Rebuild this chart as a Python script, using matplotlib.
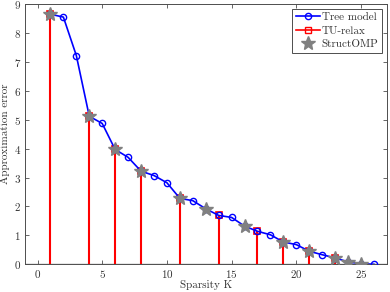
import matplotlib
matplotlib.use("Agg")
import matplotlib.pyplot as plt
from matplotlib.lines import Line2D

plt.rcParams.update({
    "font.family": "serif",
    "font.serif": ["cmr10"],
    "mathtext.fontset": "cm",
    "axes.formatter.use_mathtext": True,
    "font.size": 8,
})

# ── data ──────────────────────────────────────────────────────────────────────
k_tree = list(range(1, 27))
err_tree = [8.65, 8.55, 7.22, 5.12, 4.87, 3.97, 3.70, 3.22, 3.07, 2.82,
            2.28, 2.20, 1.92, 1.69, 1.62, 1.32, 1.14, 1.02, 0.77, 0.68,
            0.45, 0.33, 0.22, 0.08, 0.02, 0.0]

k_tu = [1, 4, 6, 8, 11, 14, 17, 19, 21, 23]
err_tu = [8.65, 5.12, 3.97, 3.22, 2.28, 1.69, 1.14, 0.77, 0.45, 0.22]

k_omp = [1, 4, 6, 8, 11, 13, 16, 19, 21, 23, 24, 25]
err_omp = [8.65, 5.12, 3.97, 3.22, 2.28, 1.92, 1.32, 0.77, 0.45, 0.22, 0.08, 0.02]

BLUE = "#0000ff"
RED = "#ff0000"
GRAY = "#808080"
AXC = "#4d4d4d"

fig = plt.figure(figsize=(3.9, 2.92), dpi=100)
ax = fig.add_axes([0.063, 0.095, 0.929, 0.891])

# TU-relax stems
ax.vlines(k_tu, 0, err_tu, color=RED, lw=1.5, zorder=2)
ax.plot(k_tu, err_tu, ls="none", marker="s", ms=4, mfc="none", mec=RED,
        mew=1.2, zorder=3)
ax.axhline(0, color=GRAY, lw=1.0, zorder=1)

# tree model
ax.plot(k_tree, err_tree, color=BLUE, lw=1.2, marker="o", ms=4.5, mfc="none",
        mec=BLUE, mew=1.0, zorder=4)

# StructOMP
ax.plot(k_omp, err_omp, ls="none", marker="*", ms=10, color=GRAY, mec=GRAY,
        zorder=5)

ax.set_xlim(-1, 27)
ax.set_ylim(0, 9)
ax.set_xticks([0, 5, 10, 15, 20, 25])
ax.set_yticks(range(0, 10))
ax.tick_params(direction="in", top=True, right=True, length=3, width=0.6,
               colors=AXC, labelcolor="#333333", pad=2.5)
for s in ax.spines.values():
    s.set_linewidth(0.7)
    s.set_color(AXC)

ax.set_xlabel("Sparsity K", labelpad=0, color="#333333")
ax.set_ylabel("Approximation error", labelpad=3, color="#333333")

handles = [
    Line2D([], [], color=BLUE, lw=1.2, marker="o", ms=4.5, mfc="none"),
    Line2D([], [], color=RED, lw=1.2, marker="s", ms=4, mfc="none"),
    Line2D([], [], ls="none", marker="*", ms=10, color=GRAY),
]
leg = ax.legend(handles, ["Tree model", "TU-relax", "StructOMP"],
                loc="upper right", fancybox=False, framealpha=1,
                edgecolor=AXC, handlelength=2.1, handletextpad=0.2,
                borderpad=0.35, labelspacing=0.32, borderaxespad=0.4)
leg.get_frame().set_linewidth(0.7)
for t in leg.get_texts():
    t.set_color("#333333")

fig.savefig("out.png", dpi=100)
